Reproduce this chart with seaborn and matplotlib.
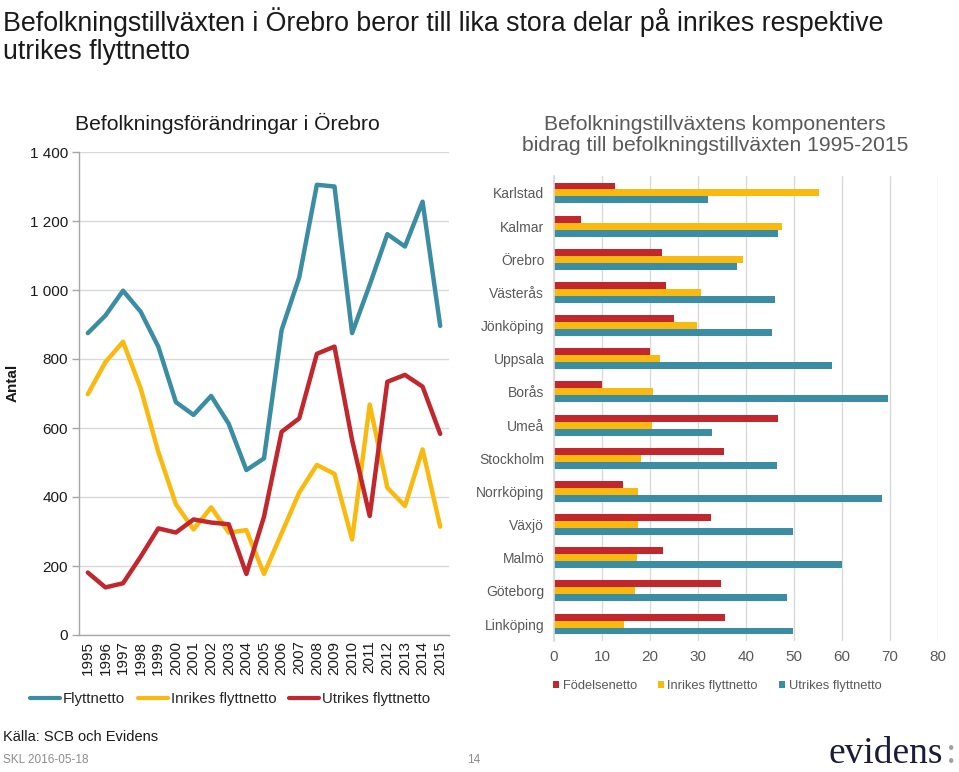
import numpy as np
import pandas as pd
import matplotlib
matplotlib.use("Agg")
import matplotlib.pyplot as plt
from matplotlib.lines import Line2D
from matplotlib.patches import Patch
import seaborn as sns

# ---------------- data ----------------
years = list(range(1995, 2016))
flyttnetto = [875, 926, 998, 937, 836, 675, 638, 693, 612, 478, 512,
              884, 1037, 1305, 1300, 875, 1015, 1162, 1126, 1256, 896]
inrikes = [698, 791, 850, 715, 531, 379, 306, 370, 297, 304, 177,
           295, 413, 493, 467, 277, 668, 427, 374, 538, 314]
utrikes = [181, 138, 150, 227, 309, 297, 335, 326, 321, 177, 343,
           589, 628, 815, 836, 565, 345, 734, 754, 720, 583]
line_series = ["Flyttnetto", "Inrikes flyttnetto", "Utrikes flyttnetto"]
y_ticks = [0, 200, 400, 600, 800, 1000, 1200, 1400]
y_ticklabels = ["0", "200", "400", "600", "800", "1 000", "1 200", "1 400"]

cities = ["Karlstad", "Kalmar", "Örebro", "Västerås", "Jönköping", "Uppsala",
          "Borås", "Umeå", "Stockholm", "Norrköping", "Växjö", "Malmö",
          "Göteborg", "Linköping"]
fodelsenetto = [12.7, 5.7, 22.5, 23.3, 25.0, 20.1, 9.9, 46.7, 35.4, 14.3,
                32.8, 22.8, 34.8, 35.6]
inrikes_bidrag = [55.2, 47.5, 39.4, 30.6, 29.7, 22.0, 20.6, 20.4, 18.1, 17.5,
                  17.4, 17.2, 16.8, 14.6]
utrikes_bidrag = [32.1, 46.7, 38.2, 46.1, 45.4, 58.0, 69.5, 32.9, 46.5, 68.3,
                  49.8, 60.1, 48.5, 49.8]
bar_series = ["Födelsenetto", "Inrikes flyttnetto", "Utrikes flyttnetto"]

TEAL = "#3A8DA3"
YELLOW = "#F9B90F"
RED = "#C1272D"
GRAY_TXT = "#595959"
GRID = "#D9D9D9"

sns.set_theme(style="white")
plt.rcParams["font.family"] = ["Liberation Sans", "DejaVu Sans"]

fig = plt.figure(figsize=(9.59, 7.72), dpi=100)

# ---------------- left line chart ----------------
df_line = pd.DataFrame({
    "idx": list(range(len(years))) * 3,
    "value": flyttnetto + inrikes + utrikes,
    "serie": [s for s in line_series for _ in years],
})
ax1 = fig.add_axes([79 / 959, 1 - 635 / 772, 370 / 959, 483 / 772])
sns.lineplot(data=df_line, x="idx", y="value", hue="serie",
             hue_order=line_series, palette=[TEAL, YELLOW, RED],
             linewidth=3.2, ax=ax1, legend=False)
ax1.set_xlim(-0.5, len(years) - 0.5)
ax1.set_ylim(0, 1400)
ax1.set_yticks(y_ticks)
ax1.set_yticklabels(y_ticklabels, fontsize=11, color="#1a1a1a")
ax1.set_xticks(range(len(years)))
ax1.set_xticklabels([str(y) for y in years], rotation=90, fontsize=11,
                    color="#1a1a1a")
ax1.set_xticks(np.arange(-0.5, len(years), 1.0), minor=True)
ax1.tick_params(axis="x", which="major", length=0, pad=4)
ax1.tick_params(axis="x", which="minor", length=5, color="#A6A6A6", width=1)
ax1.tick_params(axis="y", which="major", length=5, color="#A6A6A6", width=1,
                left=True, pad=3)
ax1.yaxis.grid(True, color=GRID, linewidth=1)
ax1.set_axisbelow(True)
for s in ["top", "right"]:
    ax1.spines[s].set_visible(False)
for s in ["left", "bottom"]:
    ax1.spines[s].set_color("#A6A6A6")
    ax1.spines[s].set_linewidth(1)
ax1.set_xlabel("")
ax1.set_ylabel("")
fig.text(75 / 959, 1 - 123 / 772, "Befolkningsförändringar i Örebro",
         fontsize=15.2, color="#1a1a1a", ha="left", va="center")
fig.text(13 / 959, 1 - 383 / 772, "Antal", rotation=90, fontsize=11,
         fontweight="bold", ha="center", va="center", color="#1a1a1a")

handles = [Line2D([0], [0], color=c, linewidth=3) for c in [TEAL, YELLOW, RED]]
fig.legend(handles, line_series, loc="center", ncol=3,
           bbox_to_anchor=(230 / 959, 1 - 699 / 772), frameon=False,
           fontsize=10.8, handlelength=2.0, handletextpad=0.2,
           columnspacing=0.85, borderpad=0, borderaxespad=0)

# ---------------- right bar chart ----------------
df_bar = pd.DataFrame({
    "city": cities * 3,
    "value": fodelsenetto + inrikes_bidrag + utrikes_bidrag,
    "komponent": [s for s in bar_series for _ in cities],
})
ax2 = fig.add_axes([554 / 959, 1 - 640.6 / 772, 384 / 959, 464.2 / 772])
sns.barplot(data=df_bar, y="city", x="value", hue="komponent",
            order=cities, hue_order=bar_series,
            palette=[RED, YELLOW, TEAL], orient="h", width=0.63,
            saturation=1, linewidth=0, ax=ax2, legend=False)
ax2.set_xlim(0, 80)
ax2.set_ylim(len(cities) - 0.5, -0.5)
ax2.set_xticks(range(0, 81, 10))
ax2.xaxis.grid(True, color=GRID, linewidth=1)
ax2.set_axisbelow(True)
for s in ["top", "right", "bottom"]:
    ax2.spines[s].set_visible(False)
ax2.spines["left"].set_color(GRID)
ax2.tick_params(axis="x", length=0, labelsize=11, labelcolor=GRAY_TXT, pad=7)
ax2.tick_params(axis="y", length=0, labelsize=10, labelcolor=GRAY_TXT, pad=7)
ax2.set_xlabel("")
ax2.set_ylabel("")
fig.text(715 / 959, 1 - 135 / 772,
         "Befolkningstillväxtens komponenters\nbidrag till befolkningstillväxten 1995-2015",
         fontsize=15.2, color=GRAY_TXT, ha="center", va="center",
         linespacing=1.08)

bhandles = [Patch(facecolor=c, linewidth=0) for c in [RED, YELLOW, TEAL]]
fig.legend(bhandles, bar_series, loc="center", ncol=3,
           bbox_to_anchor=(717 / 959, 1 - 686 / 772), frameon=False,
           fontsize=9.3, handlelength=0.5, handleheight=0.5,
           handletextpad=0.27, columnspacing=1.6, labelcolor=GRAY_TXT,
           borderpad=0, borderaxespad=0)

# ---------------- titles and footer ----------------
fig.text(3 / 959, 1 - 22 / 772,
         "Befolkningstillväxten i Örebro beror till lika stora delar på inrikes respektive",
         fontsize=19.3, color="#1a1a1a", ha="left", va="center")
fig.text(3 / 959, 1 - 52 / 772, "utrikes flyttnetto",
         fontsize=19.3, color="#1a1a1a", ha="left", va="center")
fig.text(3 / 959, 1 - 737 / 772, "Källa: SCB och Evidens", fontsize=10.5,
         color="#1a1a1a", ha="left", va="center")
fig.text(3 / 959, 1 - 760 / 772, "SKL 2016-05-18", fontsize=8.5,
         color="#8C8C8C", ha="left", va="center")
fig.text(474 / 959, 1 - 760 / 772, "14", fontsize=8.5,
         color="#8C8C8C", ha="center", va="center")
fig.text(828 / 959, 1 - 763 / 772, "evidens", fontsize=27,
         family="Liberation Serif", color="#1C1C3A", ha="left",
         va="baseline")
fig.text(946 / 959, 1 - 763 / 772, ":", fontsize=27,
         family="Liberation Serif", color="#A0A0A0", ha="left",
         va="baseline")

fig.savefig("out.png", dpi=100)
